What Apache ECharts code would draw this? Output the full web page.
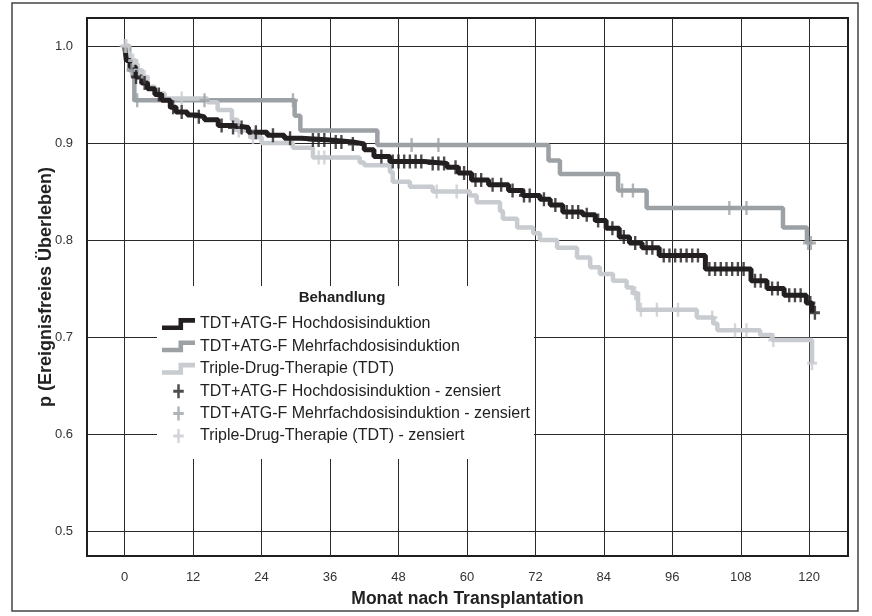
<!DOCTYPE html>
<html>
<head>
<meta charset="utf-8">
<script src="https://cdn.jsdelivr.net/npm/echarts@6/dist/echarts.min.js"></script>
<style>
  html, body { margin: 0; padding: 0; background: #fff; }
  #main { width: 872px; height: 616px; }
</style>
</head>
<body>
<div id="main"></div>
<script>
// axis ticks
const xTicks = [0, 12, 24, 36, 48, 60, 72, 84, 96, 108, 120];
const yTicks = [0.5, 0.6, 0.7, 0.8, 0.9, 1.0];

// Kaplan-Meier steps [month, p]
const hochSteps = [
  [0, 1.0], [0.3, 0.985], [1, 0.978], [2, 0.968], [3, 0.962], [4, 0.956], [5.3, 0.95],
  [6.5, 0.944], [8, 0.937], [9, 0.932], [11, 0.929], [12.5, 0.927], [14, 0.924],
  [16.4, 0.918], [19, 0.916], [21.7, 0.911], [25, 0.908], [28, 0.905], [31, 0.903],
  [36, 0.901], [40, 0.899], [42, 0.893], [43.7, 0.886], [46.5, 0.881], [52.5, 0.879],
  [56.5, 0.875], [58.5, 0.869], [60.8, 0.862], [63.8, 0.857], [67.3, 0.851], [69.8, 0.846],
  [72.8, 0.842], [74.6, 0.836], [76.8, 0.829], [80.3, 0.826], [82.5, 0.82], [84.4, 0.812],
  [86.7, 0.803], [88.5, 0.797], [90.7, 0.792], [93.7, 0.784], [101.8, 0.77], [109.8, 0.758],
  [112.6, 0.75], [115.6, 0.743], [119.5, 0.735], [120.5, 0.725]
];
const mehrSteps = [
  [0, 1.0], [0.8, 0.975], [1.7, 0.944], [29.8, 0.928], [30.8, 0.913], [44.3, 0.898],
  [74.3, 0.882], [76.3, 0.868], [86.5, 0.851], [91.5, 0.833], [115.4, 0.813], [119.6, 0.797]
];
const tdtSteps = [
  [0, 1.0], [0.5, 0.993], [0.9, 0.985], [2, 0.975], [3, 0.968], [4, 0.958], [5.3, 0.951],
  [7, 0.946], [14.5, 0.942], [16.3, 0.934], [18.8, 0.924], [19.8, 0.913], [22, 0.906],
  [24, 0.9], [29.5, 0.895], [33, 0.885], [41.2, 0.88], [42, 0.877], [46.5, 0.87], [47, 0.86],
  [50, 0.855], [54, 0.85], [60.5, 0.846], [61.7, 0.839], [65.8, 0.83], [66.3, 0.822],
  [68.8, 0.813], [71.6, 0.807], [72.8, 0.8], [75.8, 0.792], [79.3, 0.782], [81.6, 0.772],
  [83.3, 0.765], [85.6, 0.758], [88, 0.751], [89.1, 0.745], [90, 0.728], [100.3, 0.72],
  [103.2, 0.714], [103.9, 0.707], [111.4, 0.702], [113.5, 0.697], [120.5, 0.673]
];

// censoring times (months)
const hochCensored = [
  2, 3.5, 6, 8.5, 10, 13, 17, 19, 20.5, 23, 26, 29, 33, 34, 35, 37, 38, 40, 45, 47, 48, 49,
  50, 51, 52, 54, 55, 56, 58, 59.5, 61.5, 62.5, 64.5, 66, 68, 70, 71, 73.5, 75.5, 77.5, 78.5,
  79.5, 81, 83, 85.5, 87.5, 89.5, 91.5, 92.5, 94.5, 95.5, 96.5, 97.5, 98.5, 99.5, 100.5,
  102.5, 103.5, 104.5, 105.5, 106.5, 107.5, 108.5, 110.5, 111.5, 113.5, 114.5, 116.5, 117.5,
  118.5, 120.2, 121
];
const mehrCensored = [1.2, 2.2, 14, 29.5, 50.3, 55, 87.2, 89.1, 106, 109, 119.8, 120.3];
const tdtCensored = [
  0, 0.3, 1.5, 2.5, 3.5, 10, 20, 22.5, 34, 35, 54.7, 58.2, 89.5, 90.5, 93.3, 97, 103, 107,
  109, 113.7, 120.5
];

const names = [
  'TDT+ATG-F Hochdosisinduktion',
  'TDT+ATG-F Mehrfachdosisinduktion',
  'Triple-Drug-Therapie (TDT)',
  'TDT+ATG-F Hochdosisinduktion - zensiert',
  'TDT+ATG-F Mehrfachdosisinduktion - zensiert',
  'Triple-Drug-Therapie (TDT) - zensiert'
];
const colors = ['#231f20', '#9ca1a5', '#c8cbcf'];

// curve value at time t (a censored case sits on its curve)
function valueAt(steps, t) {
  let v = steps[0][1];
  steps.forEach(function (s) { if (s[0] <= t) v = s[1]; });
  return v;
}
function censorPoints(steps, times) {
  return times.map(function (t) { return [t, valueAt(steps, t)]; });
}

const stepIcon = 'path://M0,8H18V0H36V5H23V13H0Z';
const plusIcon = 'path://M4,0H6.5V14H4ZM0,5.5H10.5V8.5H0Z';
const FONT = 'Liberation Sans, Arial, sans-serif';

var chart = echarts.init(document.getElementById('main'));
var option = {
  animation: false,
  backgroundColor: '#fff',
  grid: {
    left: 87, right: 24, top: 18, bottom: 60,
    show: true, borderColor: '#1e1e1e', borderWidth: 2
  },
  xAxis: {
    type: 'value', min: -6.6, max: 126.8,
    name: 'Monat nach Transplantation', nameLocation: 'middle', nameGap: 34,
    nameMoveOverlap: false,
    nameTextStyle: { fontFamily: FONT, fontWeight: 'bold', fontSize: 17.5, color: '#222' },
    axisLine: { show: false },
    axisTick: { show: false, customValues: xTicks },
    axisLabel: { customValues: xTicks, margin: 15, fontFamily: FONT, fontSize: 13, color: '#333' },
    splitLine: { show: true, lineStyle: { color: '#2a2a2a', width: 1 } }
  },
  yAxis: {
    type: 'value', min: 0.4742, max: 1.0289,
    name: 'p (Ereignisfreies Überleben)', nameLocation: 'middle', nameGap: 32,
    nameMoveOverlap: false,
    nameTextStyle: { fontFamily: FONT, fontWeight: 'bold', fontSize: 18, color: '#222' },
    axisLine: { show: false },
    axisTick: { show: true, length: 10, customValues: yTicks, lineStyle: { color: '#2a2a2a' } },
    axisLabel: {
      customValues: yTicks, margin: 14, fontFamily: FONT, fontSize: 13, color: '#333',
      formatter: function (v) { return v.toFixed(1); }
    },
    splitLine: { show: true, lineStyle: { color: '#2a2a2a', width: 1 } }
  },
  legend: {
    orient: 'vertical', left: 157, top: 286,
    padding: [30, 4, 15, 5], itemGap: 6.4, itemWidth: 33, itemHeight: 14,
    backgroundColor: '#fff',
    itemStyle: { borderWidth: 0 },
    textStyle: { fontFamily: FONT, fontSize: 16, color: '#222' },
    data: [
      { name: names[0], icon: stepIcon },
      { name: names[1], icon: stepIcon },
      { name: names[2], icon: stepIcon },
      { name: names[3], icon: plusIcon },
      { name: names[4], icon: plusIcon },
      { name: names[5], icon: plusIcon }
    ]
  },
  graphic: [
    {
      type: 'rect', silent: true, z: 100,
      shape: { x: 12, y: 3, width: 846, height: 608 },
      style: { fill: 'none', stroke: '#444', lineWidth: 1.5 }
    },
    {
      type: 'text', silent: true, z: 100, x: 342, y: 298,
      style: {
        text: 'Behandlung', font: 'bold 15px ' + FONT, fill: '#222',
        align: 'center', verticalAlign: 'middle'
      }
    }
  ],
  series: [
    {
      name: names[1], type: 'line', step: 'end', symbol: 'none', data: mehrSteps,
      color: colors[1], lineStyle: { color: colors[1], width: 4.5 }, z: 2
    },
    {
      name: names[2], type: 'line', step: 'end', symbol: 'none', data: tdtSteps,
      color: colors[2], lineStyle: { color: colors[2], width: 4.5 }, z: 3
    },
    {
      name: names[0], type: 'line', step: 'end', symbol: 'none', data: hochSteps,
      color: colors[0], lineStyle: { color: colors[0], width: 5 }, z: 4
    },
    {
      name: names[4], type: 'scatter', symbol: plusIcon, symbolSize: [10, 14],
      data: censorPoints(mehrSteps, mehrCensored), itemStyle: { color: colors[1] }, z: 5
    },
    {
      name: names[5], type: 'scatter', symbol: plusIcon, symbolSize: [10, 14],
      data: censorPoints(tdtSteps, tdtCensored), itemStyle: { color: colors[2] }, z: 5
    },
    {
      name: names[3], type: 'scatter', symbol: plusIcon, symbolSize: [10, 14],
      data: censorPoints(hochSteps, hochCensored), itemStyle: { color: colors[0] }, z: 6
    }
  ]
};
chart.setOption(option);
</script>
</body>
</html>
